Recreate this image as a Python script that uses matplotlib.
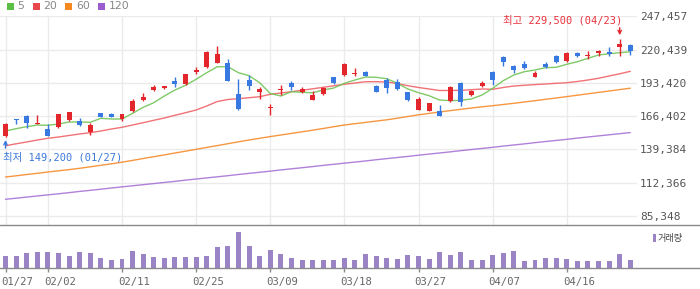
import numpy as np
import matplotlib
matplotlib.use("Agg")
import matplotlib.pyplot as plt
from matplotlib.patches import Rectangle
from matplotlib.transforms import ScaledTranslation

plt.rcParams['font.family'] = ['DejaVu Sans', 'Noto Sans CJK KR']

# ---------------- data ----------------
dates = ['01/27', '01/28', '01/29', '01/30', '02/02', '02/03', '02/04', '02/05', '02/06', '02/09',
         '02/10', '02/11', '02/12', '02/13', '02/19', '02/20', '02/23', '02/24', '02/25', '02/26',
         '02/27', '03/03', '03/04', '03/05', '03/06', '03/09', '03/10', '03/11', '03/12', '03/13',
         '03/16', '03/17', '03/18', '03/19', '03/20', '03/23', '03/24', '03/25', '03/26', '03/27',
         '03/30', '03/31', '04/01', '04/02', '04/03', '04/06', '04/07', '04/08', '04/09', '04/10',
         '04/13', '04/14', '04/15', '04/16', '04/17', '04/20', '04/21', '04/22', '04/23', '04/24']

tick_labels = ['01/27', '02/02', '02/11', '02/25', '03/09', '03/18', '03/27', '04/07', '04/16']

open_ = [150500, 163500, 166500, 160300, 155900, 157800, 163200, 162400, 153700, 168600,
         167800, 164000, 170600, 179500, 187600, 189300, 195200, 192500, 202300, 206400,
         209600, 209600, 184100, 195800, 186000, 173400, 187800, 193600, 186000, 179800,
         184700, 198200, 200100, 200800, 202300, 191200, 195800, 194100, 186000, 171400,
         170600, 170500, 178700, 193300, 183800, 191100, 202300, 214500, 207200, 208800,
         198500, 208800, 215300, 211200, 217700, 215200, 217800, 218500, 222700, 224500]
high = [160500, 164300, 167300, 167300, 159700, 168300, 170000, 165100, 160500, 169100,
        169000, 168500, 180100, 185400, 191700, 190900, 198200, 200900, 206100, 219400,
        223400, 212900, 196600, 199900, 190300, 176200, 191700, 195000, 190300, 186500,
        189800, 198400, 209600, 205500, 203100, 192000, 197100, 196600, 186300, 181700,
        177300, 175400, 190600, 194100, 187400, 194800, 203100, 215300, 208200, 211200,
        203400, 210400, 216100, 218600, 218600, 219400, 220500, 222600, 229500, 225300]
low = [149200, 160000, 157000, 160000, 150000, 157000, 162400, 158400, 151000, 165300,
       165300, 162200, 169700, 178700, 186800, 188800, 190100, 191700, 200900, 205500,
       209600, 195000, 171400, 187600, 180300, 167300, 183600, 187600, 185000, 179500,
       183600, 192800, 199300, 199300, 199000, 185700, 185400, 187900, 179000, 171300,
       170300, 166500, 178000, 174600, 182800, 190300, 191700, 207400, 201700, 204700,
       198400, 205300, 209600, 210400, 214500, 212900, 215300, 215300, 215300, 216100]
close = [160000, 163000, 161000, 160500, 150300, 168100, 169700, 159400, 159200, 165700,
         165700, 168100, 178700, 182200, 190300, 190600, 192800, 200700, 203900, 218600,
         216900, 195200, 172200, 191200, 188500, 173700, 188000, 189800, 188500, 183800,
         189500, 193300, 208800, 201000, 199300, 186300, 189500, 188700, 179800, 180300,
         177100, 166700, 189800, 177900, 187100, 193600, 195800, 210400, 204200, 205500,
         201500, 206400, 210400, 217800, 215300, 215400, 219600, 217000, 225100, 219400]

ma5 = [154280, 156150, 157780, 159160, 158920, 159970, 161600, 161600, 161360, 164610,
       164040, 164040, 168680, 173560, 177310, 182760, 187640, 191470, 196350, 201720,
       206600, 206600, 201720, 199280, 193580, 184790, 182760, 186260, 185770, 185360,
       187640, 189270, 193100, 195780, 198220, 197980, 196840, 193100, 188460, 185450,
       183000, 179500, 178940, 179260, 180320, 183570, 189030, 195210, 199850, 202540,
       203920, 205790, 206120, 208560, 210670, 213440, 216130, 217180, 218000, 218810]
ma20 = [142310, 143860, 145330, 146950, 148340, 149390, 150620, 151840, 152890, 154280,
        155900, 157290, 159160, 161030, 162980, 164860, 167050, 169170, 171370, 174620,
        178280, 179910, 180560, 181380, 182190, 184140, 185200, 186260, 187400, 188620,
        189840, 191060, 192280, 193340, 194400, 194400, 194150, 192930, 191140, 189680,
        188460, 187240, 187240, 187400, 187890, 188460, 188210, 189680, 190900, 191470,
        192040, 192530, 193100, 193580, 194560, 195780, 197160, 199040, 200830, 202860]
ma60 = [116840, 117820, 118880, 119850, 120910, 121890, 122860, 123920, 125140, 126360,
        127580, 128890, 130350, 131900, 133360, 134830, 136370, 137840, 139380, 140930,
        142400, 143940, 145490, 146950, 148340, 149720, 151020, 152320, 153630, 154930,
        156310, 157780, 159160, 160220, 161280, 162330, 163390, 164690, 166080, 167460,
        168600, 169740, 170880, 171940, 172990, 173970, 174870, 175840, 176820, 177880,
        178940, 180070, 181130, 182270, 183410, 184550, 185690, 186830, 187970, 189110]
ma120 = [98700, 99600, 100500, 101400, 102300, 103200, 104100, 105100, 106000, 106900,
         107900, 108800, 109700, 110600, 111500, 112400, 113300, 114300, 115200, 116100,
         117000, 117900, 118900, 119800, 120700, 121600, 122600, 123500, 124400, 125300,
         126300, 127200, 128100, 129000, 129900, 130900, 131800, 132700, 133600, 134600,
         135500, 136400, 137300, 138300, 139200, 140100, 141000, 142000, 142900, 143800,
         144800, 145700, 146600, 147500, 148500, 149400, 150300, 151200, 152100, 153000]

volume = [246000, 246000, 306000, 326000, 326000, 306000, 246000, 326000, 306000, 206000,
          166000, 186000, 346000, 286000, 226000, 206000, 226000, 226000, 226000, 246000,
          426000, 446000, 726000, 446000, 246000, 366000, 286000, 206000, 166000, 166000,
          166000, 166000, 206000, 166000, 286000, 246000, 206000, 186000, 266000, 246000,
          186000, 326000, 266000, 326000, 166000, 166000, 266000, 306000, 346000, 146000,
          166000, 206000, 206000, 186000, 146000, 146000, 146000, 146000, 286000, 166000]

ytick_vals = [85348, 112366, 139384, 166402, 193420, 220439, 247457]
ma_labels = ['5', '20', '60', '120']

# ---------------- style ----------------
UP = '#e3262b'
DOWN = '#3779e0'
MA_COLORS = ['#72c457', '#ef6368', '#f68b2c', '#a873d6']
LEG_COLORS = ['#5bbf45', '#e8474d', '#f5881f', '#9b5ccf']
VOL_C = '#9a84c6'
GRID = '#ebebeb'

W, H = 700, 289
fig = plt.figure(figsize=(W / 100, H / 100), dpi=100)

main_top, main_bot, main_right = 16.0, 225.3, 637.0
vol_bot = 268.3
x0_px, px_per = 5.5, 10.59

ax = fig.add_axes([0, 1 - main_bot / H, main_right / W, (main_bot - main_top) / H])
axv = fig.add_axes([0, 1 - vol_bot / H, 1.0, (vol_bot - main_bot) / H])
axv.set_facecolor('none')

n = len(dates)
idx = np.arange(n)
o = np.array(open_); c = np.array(close); hi = np.array(high); lo = np.array(low)

ax.set_xlim(-x0_px / px_per, (main_right - x0_px) / px_per)
axv.set_xlim(-x0_px / px_per, (W - x0_px) / px_per)
ax.set_ylim(77540, 247860)

tick_idx = [dates.index(t) for t in tick_labels]

# grid
ax.set_yticks(ytick_vals)
ax.set_yticklabels([f"{v:,}" for v in ytick_vals])
ax.set_xticks(tick_idx)
ax.grid(True, color=GRID, lw=1, zorder=0)
ax.set_axisbelow(True)
for s in ax.spines.values():
    s.set_visible(False)
ax.tick_params(axis='x', length=0, labelbottom=False)
ax.yaxis.tick_right()
ax.tick_params(axis='y', length=0, pad=2.2, labelsize=8, labelcolor='#555555')
for lab in ax.get_yticklabels():
    lab.set_family('DejaVu Sans Mono')

# moving averages
for ma, col in zip([ma120, ma60, ma20, ma5], MA_COLORS[::-1]):
    ax.plot(idx, ma, color=col, lw=1.0, alpha=0.9, zorder=2, solid_capstyle='round')

# candles
cols = [UP if cc >= oo else DOWN for oo, cc in zip(o, c)]
ax.vlines(idx, lo, hi, colors=cols, lw=1.0, zorder=3)
body_bottom = np.minimum(o, c)
body_h = np.maximum(np.abs(c - o), 700)
ax.bar(idx, body_h, bottom=body_bottom, width=0.47, color=cols, lw=0, zorder=4)

# high / low annotations
ih = int(np.argmax(hi)); il = int(np.argmin(lo))
fam = ['DejaVu Sans Mono', 'Noto Sans CJK KR']
ax.annotate('', xy=(ih, hi[ih]), xytext=(0, 7.8), textcoords='offset points',
            arrowprops=dict(arrowstyle='->', color=UP, lw=1, shrinkA=0, shrinkB=2.4,
                            mutation_scale=6), zorder=6)
ax.annotate(f"최고 {hi[ih]:,} ({dates[ih]})", xy=(ih, hi[ih]), xytext=(2.1, 13.4),
            textcoords='offset points', ha='right', va='center', color='#e8323c',
            fontsize=7.5, family=fam, zorder=6)
ax.annotate('', xy=(il, lo[il]), xytext=(0, -7.8), textcoords='offset points',
            arrowprops=dict(arrowstyle='->', color=DOWN, lw=1, shrinkA=0, shrinkB=2.0,
                            mutation_scale=6), zorder=6)
ax.annotate(f"최저 {lo[il]:,} ({dates[il]})", xy=(il, lo[il]), xytext=(-2.0, -14.5),
            textcoords='offset points', ha='left', va='center', color='#3a78d8',
            fontsize=7.5, family=fam, zorder=6)

# legend for MA
leg_sq_x = [7, 33, 65, 98]
leg_tx_x = [17, 43, 76, 109]
for lab, col, sx, tx in zip(ma_labels, LEG_COLORS, leg_sq_x, leg_tx_x):
    fig.add_artist(Rectangle((sx / W, 1 - 9.8 / H), 7 / W, 7 / H, transform=fig.transFigure,
                             color=col, lw=0))
    fig.text(tx / W, 1 - 6.3 / H, lab, color='#888888', fontsize=7.8, va='center', ha='left')

# volume
axv.bar(idx, volume, width=0.47, color=VOL_C, lw=0, zorder=2)
axv.set_ylim(0, 860000)
axv.set_yticks([])
for side in ['left', 'right']:
    axv.spines[side].set_visible(False)
for side in ['top', 'bottom']:
    axv.spines[side].set_color('#8a8a8a')
    axv.spines[side].set_linewidth(1.0)
axv.set_xticks(tick_idx)
axv.set_xticklabels(tick_labels)
axv.tick_params(axis='x', length=3, width=1, color='#8a8a8a', pad=3,
                labelsize=7.7, labelcolor='#666666')
shift = ScaledTranslation(-4 / 100, 0, fig.dpi_scale_trans)
for lab in axv.get_xticklabels():
    lab.set_family('DejaVu Sans Mono')
    lab.set_ha('left')
    lab.set_transform(lab.get_transform() + shift)

fig.add_artist(Rectangle((652.7 / W, 1 - 242 / H), 3 / W, 8 / H, transform=fig.transFigure,
                         color=VOL_C, lw=0))
fig.text(658 / W, 1 - 238 / H, '거래량', color='#444444', fontsize=6.6,
         family=['Noto Sans CJK KR', 'DejaVu Sans'], va='center', ha='left')

fig.savefig('out.png', dpi=100)
